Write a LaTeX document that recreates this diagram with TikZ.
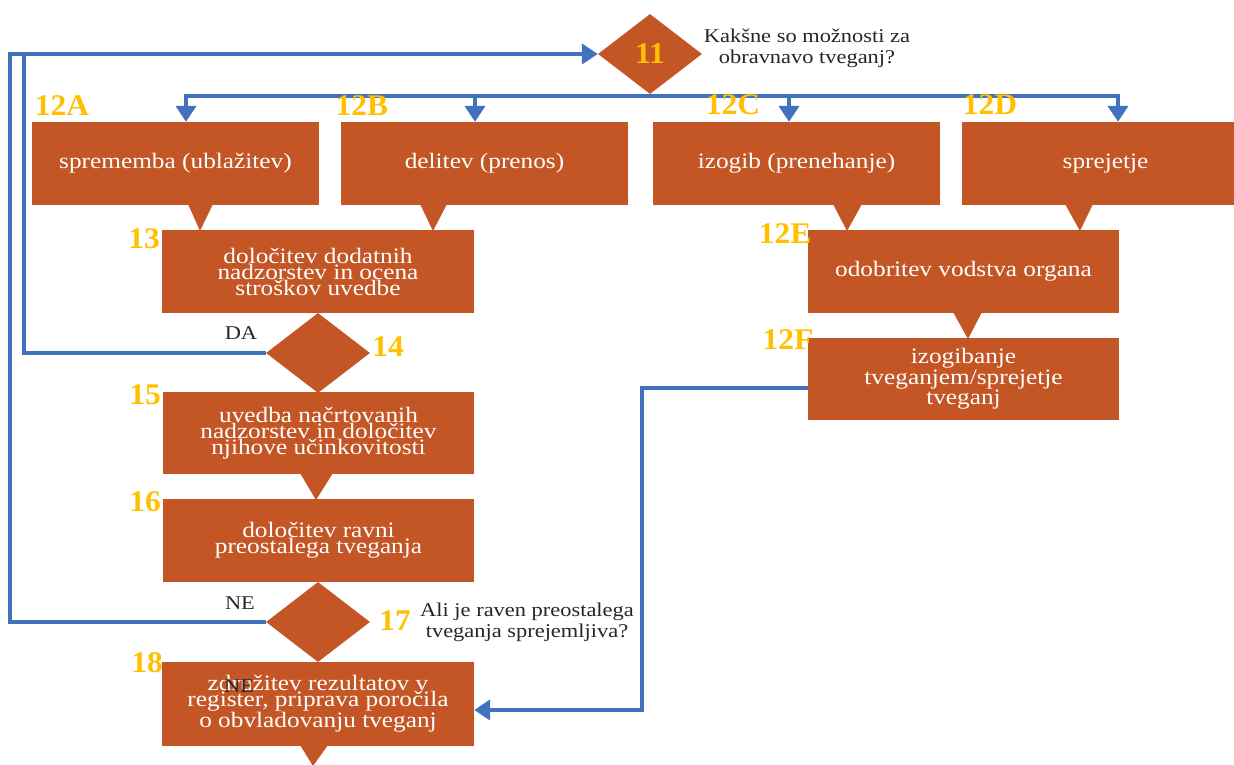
\documentclass[tikz,border=0pt]{standalone}
\usepackage{fontspec}
\setmainfont{Liberation Serif}[FakeStretch=1.15]
\newfontfamily\lblfont{Liberation Serif}[FakeStretch=1.05]
\usetikzlibrary{arrows.meta,shapes.geometric}
\definecolor{boxor}{RGB}{196,86,38}
\definecolor{lnblue}{RGB}{66,113,190}
\definecolor{lblyel}{RGB}{255,192,0}
\definecolor{txtdark}{RGB}{38,38,38}
\begin{document}
\begin{tikzpicture}[x=1pt,y=-1pt,
  box/.style={fill=boxor,inner sep=0pt,minimum height=83pt,text=white,
    font=\fontsize{22}{16}\selectfont,align=center},
  dia/.style={diamond,fill=boxor,inner sep=0pt,minimum width=104pt,minimum height=80pt},
  lbl/.style={text=lblyel,font=\lblfont\bfseries\fontsize{30}{30}\selectfont,inner sep=0pt},
  note/.style={text=txtdark,font=\fontsize{19.5}{21}\selectfont,align=center,inner sep=0pt},
  bl/.style={draw=lnblue,line width=4pt},
  arr/.style={bl,-{Triangle[width=20pt,length=16pt]}},
  ptr/.style={fill=boxor}]
\useasboundingbox (0,0) rectangle (1234,765);
% pointers (callout tips)
\fill[ptr] (188,204) -- (213,204) -- (200,231) -- cycle;
\fill[ptr] (420,204) -- (447,204) -- (433,231) -- cycle;
\fill[ptr] (833,204) -- (862,204) -- (847,231) -- cycle;
\fill[ptr] (1065,204) -- (1093,204) -- (1080,231) -- cycle;
\fill[ptr] (953,312) -- (982,312) -- (968,339) -- cycle;
\fill[ptr] (300,473) -- (333,473) -- (316,500) -- cycle;
\fill[ptr] (300,745) -- (328,745) -- (313,766) -- cycle;
% diamonds
\node[dia] (d11) at (650,54) {};
\node[dia] (d14) at (318,353) {};
\node[dia] (d17) at (318,622) {};
% boxes
\node[box,minimum width=287pt] (b12a) at (175.5,163.5) {sprememba (ublažitev)};
\node[box,minimum width=287pt] (b12b) at (484.5,163.5) {delitev (prenos)};
\node[box,minimum width=287pt] (b12c) at (796.5,163.5) {izogib (prenehanje)};
\node[box,minimum width=287pt] (b12d) at (1105.5,163.5) {sprejetje};
\node[box,minimum width=312pt] (b13) at (318,271.5) {določitev dodatnih\\nadzorstev in ocena\\stroškov uvedbe};
\node[box,minimum width=311pt,minimum height=82pt] (b15) at (318.5,433) {uvedba načrtovanih\\nadzorstev in določitev\\njihove učinkovitosti};
\node[box,minimum width=311pt] (b16) at (318.5,540.5) {določitev ravni\\preostalega tveganja};
\node[box,minimum width=312pt,minimum height=84pt] (b18) at (318,704) {združitev rezultatov v\\register, priprava poročila\\o obvladovanju tveganj};
\node[box,minimum width=311pt] (b12e) at (963.5,271.5) {odobritev vodstva organa};
\node[box,minimum width=311pt,minimum height=82pt] (b12f) at (963.5,379) {izogibanje\\tveganjem/sprejetje\\tveganj};
% connectors
\coordinate (ba) at (186,96);
\coordinate (bb) at (475,96);
\coordinate (bc) at (789,96);
\coordinate (bd) at (1118,96);
\draw[arr] (bb) -| (ba |- b12a.north);
\draw[arr] (bb) -| (bd |- b12d.north);
\draw[arr] (bb) -- (bb |- b12b.north);
\draw[arr] (bc) -- (bc |- b12c.north);
\coordinate (outer) at (10,54);
\coordinate (inner) at (24,54);
\draw[arr] (d17.west) -| (outer) -- (d11.west);
\draw[bl] (d14.west) -| (inner);
\coordinate (turn) at (642,710);
\draw[arr] ([yshift=-9pt]b12f.west) -| (turn) -- ([yshift=-6pt]b18.east);
% labels
\node[lbl] (l11) at (650,54) {11};
\node[lbl] (l12a) at (62,106) {12A};
\node[lbl] (l12b) at (362,106) {12B};
\node[lbl] (l12c) at (733,105) {12C};
\node[lbl] (l12d) at (990,105) {12D};
\node[lbl] (l12e) at (785,234) {12E};
\node[lbl] (l12f) at (788,340) {12F};
\node[lbl] (l13) at (144,239) {13};
\node[lbl] (l14) at (388,347) {14};
\node[lbl] (l15) at (145,395) {15};
\node[lbl] (l16) at (145,502) {16};
\node[lbl] (l17) at (395,621) {17};
\node[lbl] (l18) at (147,663) {18};
% notes
\node[note] (q11) at (807,48) {Kakšne so možnosti za\\obravnavo tveganj?};
\node[note] (q17) at (527,622) {Ali je raven preostalega\\tveganja sprejemljiva?};
\node[note] (da) at (241,333) {DA};
\node[note] (ne) at (240,603) {NE};
\node[note] (ne2) at (239,686) {NE};
\end{tikzpicture}
\end{document}
